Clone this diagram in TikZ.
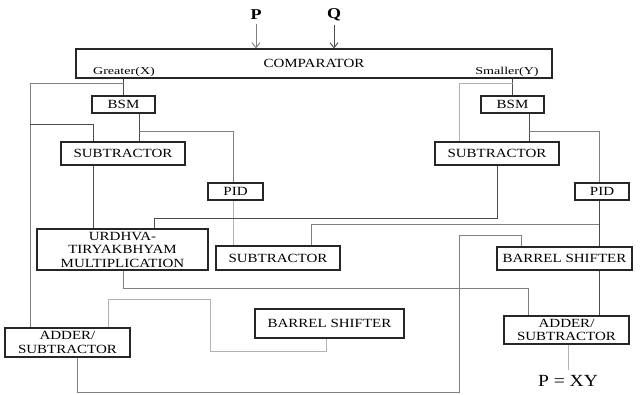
\documentclass[tikz,border=0pt]{standalone}
\usepackage{fontspec}
\setmainfont{Liberation Serif}[FakeStretch=1.2]
\newfontfamily\lblfont{Liberation Serif}[FakeStretch=1.34]
\newfontfamily\pxyfont{Liberation Serif}[FakeStretch=1.15]
\usetikzlibrary{arrows.meta}
\begin{document}
\begin{tikzpicture}[x=1pt,y=-1pt,
  blk/.style={draw=black!85, line width=1.2pt, rectangle, inner sep=0pt, font=\fontsize{12.5}{13.5}\selectfont, align=center},
  dk/.style={draw=black!70, line width=0.9pt},
  md/.style={draw=black!50, line width=0.9pt},
  lt/.style={draw=black!30, line width=0.9pt},
  lbl/.style={inner sep=0pt, font=\lblfont\fontsize{10.5}{11}\selectfont},
  inp/.style={inner sep=0pt, font=\fontsize{15}{15}\selectfont\bfseries}]
\useasboundingbox (0,0) rectangle (644,395);
% boxes
\node[blk, minimum width=476pt, minimum height=29pt] (comp) at (314,63.5) {COMPARATOR};
\node[lbl] (gx) at (124,71.5) {Greater(X)};
\node[lbl] (sy) at (507,71.5) {Smaller(Y)};
\node[blk, minimum width=63pt, minimum height=17pt] (bsmL) at (123.5,104.5) {BSM};
\node[blk, minimum width=63pt, minimum height=17pt] (bsmR) at (512.5,104.5) {BSM};
\node[blk, minimum width=124pt, minimum height=23pt] (subL) at (123,153.5) {SUBTRACTOR};
\node[blk, minimum width=124pt, minimum height=23pt] (subR) at (497,153.5) {SUBTRACTOR};
\node[blk, minimum width=55pt, minimum height=17pt] (pidL) at (235.5,191.5) {PID};
\node[blk, minimum width=54pt, minimum height=17pt] (pidR) at (602,191.5) {PID};
\node[blk, minimum width=171pt, minimum height=41pt] (urd) at (122.5,249.5) {URDHVA-\\TIRYAKBHYAM\\MULTIPLICATION};
\node[blk, minimum width=124pt, minimum height=24pt] (subM) at (278,258) {SUBTRACTOR};
\node[blk, minimum width=135pt, minimum height=23pt] (bsR) at (564.5,258.5) {BARREL SHIFTER};
\node[blk, minimum width=149pt, minimum height=29pt] (bsM) at (329.5,323.5) {BARREL SHIFTER};
\node[blk, minimum width=125pt, minimum height=29pt] (addL) at (67.5,342.5) {ADDER/\\SUBTRACTOR};
\node[blk, minimum width=125pt, minimum height=28pt] (addR) at (566.5,330) {ADDER/\\SUBTRACTOR};
\node[inp] (P) at (256,15) {P};
\node[inp] (Q) at (334,15) {Q};
\node[inner sep=0pt, font=\pxyfont\fontsize{17}{17}\selectfont] (pxy) at (568,381) {P = XY};
% inputs
\draw[md, -{Straight Barb[length=5pt,width=8pt]}] (P.south) ++(0,4) -- (P.south |- comp.north);
\draw[dk, -{Straight Barb[length=5pt,width=8pt]}] (Q.south) ++(0,4) -- (Q.south |- comp.north);
% left column
\draw[dk] (bsmL.north |- comp.south) -- (bsmL.north);
\draw[md] (bsmL.north |- 0,83) -- (30,83) -- (30,0 |- addL.north);
\draw[dk] (30,124) -- (93,124) -- (93,0 |- subL.north);
\draw[dk] (139,0 |- bsmL.south) -- (139,0 |- subL.north);
\draw[md] (139,131) -- (233,131) -- (233,0 |- pidL.north);
\draw[lt] (233,0 |- pidL.south) -- (233,0 |- subM.north);
\draw[dk] (93,0 |- subL.south) -- (93,0 |- urd.north);
% right column
\draw[dk] (bsmR.north |- comp.south) -- (bsmR.north);
\draw[lt] (bsmR.north |- 0,83) -- (459,83) -- (459,0 |- subR.north);
\draw[dk] (529,0 |- bsmR.south) -- (529,0 |- subR.north);
\draw[md] (529,131) -- (599,131) -- (599,0 |- pidR.north);
\draw[dk] (subR.south) -- (497,218) -- (154,218) -- (154,0 |- urd.north);
\draw[dk] (599,0 |- pidR.south) -- (599,0 |- bsR.north);
\draw[md] (599,224) -- (311,224) -- (311,0 |- subM.north);
\draw[dk] (599,0 |- bsR.south) -- (599,0 |- addR.north);
% lower connectors
\draw[md] (123,0 |- urd.south) -- (123,288) -- (528,288) -- (528,0 |- addR.north);
\draw[md] (521,0 |- bsR.north) -- (521,235) -- (459,235) -- (459,392) -- (77,392) -- (77,0 |- addL.south);
\draw[lt] (108,0 |- addL.north) -- (108,299) -- (210,299) -- (210,351) -- (326,351) -- (326,0 |- bsM.south);
\draw[lt] (568,0 |- addR.south) -- (568,370);
\end{tikzpicture}
\end{document}
